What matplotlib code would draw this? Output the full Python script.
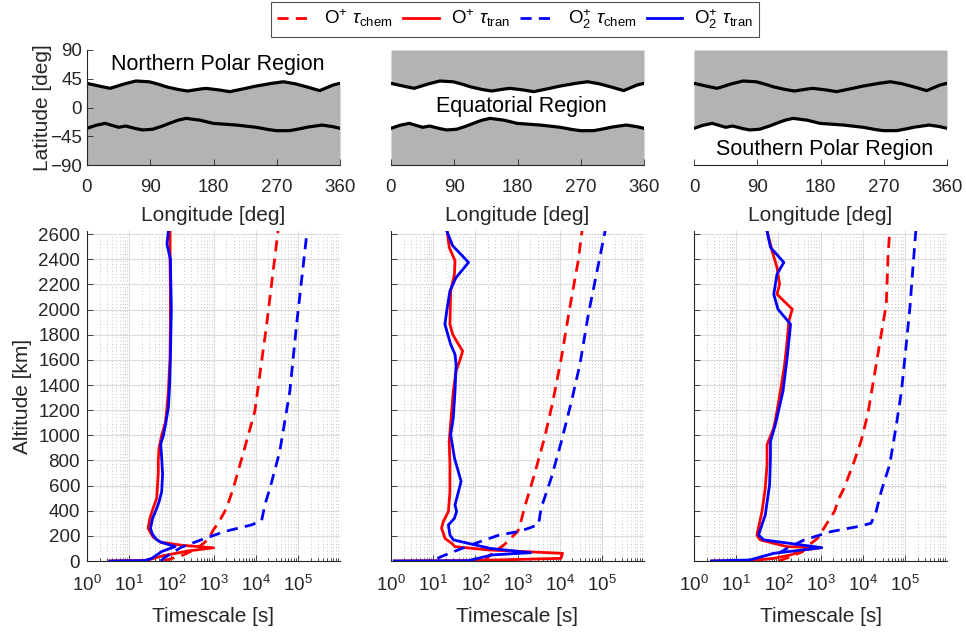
import numpy as np
import matplotlib
matplotlib.use('Agg')
import matplotlib.pyplot as plt
from matplotlib.ticker import LogLocator, NullFormatter

plt.rcParams['font.family'] = ['Liberation Sans', 'DejaVu Sans']
plt.rcParams['mathtext.fontset'] = 'custom'
plt.rcParams['mathtext.rm'] = 'Liberation Sans'
plt.rcParams['mathtext.it'] = 'Liberation Sans:italic'
plt.rcParams['mathtext.bf'] = 'Liberation Sans:bold'

# region boundaries (deg)
bound_lon_up = [0, 15, 33, 50, 69, 88, 100, 112, 128, 143, 158, 169, 185, 203, 220, 236, 258,
                279, 295, 312, 331, 350, 360]
bound_lat_up = [37.8, 34, 30, 36, 41.5, 40.4, 37, 32.6, 28.5, 25.8, 28.5, 30, 28, 24.8, 28.5,
                32.6, 37, 40.4, 37.5, 32.6, 26.4, 35.2, 37.8]
bound_lon_lo = [0, 12, 26, 45, 55, 67, 79, 93, 105, 117, 129, 141, 160, 179, 195, 212, 228,
                241, 255, 269, 288, 300, 312, 334, 348, 360]
bound_lat_lo = [-32.6, -28, -24.8, -31, -29, -32.5, -35.2, -34.2, -30, -24.8, -20, -17, -19.6,
                -24.8, -26, -27.4, -29.5, -31, -34, -36.3, -36.3, -34, -31, -27.4, -29.5, -32.6]

region_names = ['Northern Polar Region', 'Equatorial Region', 'Southern Polar Region']

# ---- Northern polar region timescales [s] vs altitude [km]
n_red_tran_alt = [0, 5, 40, 80, 105, 125, 150, 190, 260, 340, 420, 500, 600, 700, 800, 900,
                  1000, 1100, 1200, 1350, 1600, 1900, 2150, 2400, 2625]
n_red_tran = [3.5, 26, 60, 250, 1000, 180, 55, 37, 28, 31, 37, 45, 47, 49, 49, 51,
              59, 72, 78, 85, 93, 95, 95, 93, 93]
n_blue_tran_alt = [0, 3, 20, 75, 115, 150, 170, 210, 260, 340, 410, 470, 550, 690, 820, 930,
                   1000, 1100, 1220, 1400, 1620, 2000, 2400, 2520, 2625]
n_blue_tran = [3.5, 23, 34, 59, 123, 56, 45, 36, 32, 36, 44, 51, 59, 62, 59, 56,
               65, 74, 85, 91, 95, 100, 95, 79, 85]
n_red_chem_alt = [0, 50, 100, 150, 200, 250, 300, 420, 580, 850, 1190, 1880, 2625]
n_red_chem = [66, 200, 400, 630, 830, 1000, 1290, 2040, 2950, 5000, 9550, 18200, 33900]
n_blue_chem_alt = [0, 30, 110, 170, 235, 287, 320, 450, 580, 870, 1350, 1880, 2625]
n_blue_chem = [56, 71, 174, 525, 1860, 7940, 13800, 16600, 21900, 37200, 64600, 93300, 166000]

# ---- Equatorial region
e_red_tran_alt = [0, 3, 21, 61, 88, 114, 141, 180, 221, 261, 314, 394, 553, 766, 952, 1191,
                  1351, 1511, 1617, 1670, 1723, 1803, 1883, 2149, 2282, 2388, 2495, 2625]
e_red_tran = [1.2, 79, 10700, 11700, 204, 33, 27.5, 19, 17.4, 15.8, 17.4, 23, 25, 25, 24, 27.5,
              30, 35, 45, 50, 40, 29, 25, 26, 32, 33, 24, 21.6]
e_blue_tran_alt = [0, 2, 48, 66, 100, 168, 207, 287, 340, 394, 447, 633, 819, 1005, 1138,
                   1351, 1564, 1644, 1723, 1883, 1989, 2149, 2255, 2375, 2508, 2625]
e_blue_tran = [1.2, 68, 245, 2040, 229, 30, 25, 23, 32, 36, 33, 46, 32, 26, 30,
               33, 35, 33, 26, 19, 21, 25, 35, 69, 29, 21]
e_red_chem_alt = [0, 61, 128, 234, 261, 420, 686, 979, 1271, 1617, 2016, 2388, 2625]
e_red_chem = [160, 250, 480, 1000, 1100, 1450, 2510, 4370, 6920, 11000, 17400, 27500, 33900]
e_blue_chem_alt = [20, 35, 130, 205, 235, 261, 290, 420, 660, 952, 1271, 1564, 1963, 2362, 2625]
e_blue_chem = [12.6, 15.5, 81, 355, 1070, 1860, 3160, 3630, 6310, 11000, 19100, 30200,
               47900, 83200, 120000]

# ---- Southern polar region
s_red_tran_alt = [0, 3, 21, 48, 88, 106, 114, 168, 207, 394, 580, 766, 926, 1059, 1191, 1351,
                  1564, 1750, 1910, 2003, 2122, 2202, 2335, 2468, 2625]
s_red_tran = [2.6, 21, 78, 195, 410, 1000, 162, 37, 31, 41, 49, 54, 54, 78, 93, 112,
              141, 162, 178, 214, 93, 107, 93, 71, 54]
s_blue_tran_alt = [0, 8, 61, 106, 168, 207, 367, 606, 819, 952, 1085, 1351, 1617, 1883, 2003,
                   2122, 2282, 2375, 2495, 2625]
s_blue_tran = [2.6, 21, 78, 1070, 45, 34, 49, 62, 65, 65, 85, 129, 162, 195, 98,
               78, 93, 135, 65, 54]
s_red_chem_alt = [0, 34, 74, 128, 180, 287, 394, 500, 580, 793, 952, 1165, 1484, 1803, 2043,
                  2415, 2625]
s_red_chem = [102, 195, 372, 537, 851, 1350, 2140, 2750, 3630, 6310, 9120, 13200, 19100,
              27500, 36300, 39800, 43700]
s_blue_chem_alt = [60, 101, 167, 234, 274, 300, 394, 553, 766, 1085, 1351, 1750, 2016, 2362, 2625]
s_blue_chem = [100, 162, 407, 1780, 7760, 15800, 20900, 27500, 43700, 63100, 83200, 110000,
               132000, 158000, 182000]

labels = [r'O$^{+}$ $\tau_{\mathrm{chem}}$', r'O$^{+}$ $\tau_{\mathrm{tran}}$',
          r'O$_2^{+}$ $\tau_{\mathrm{chem}}$', r'O$_2^{+}$ $\tau_{\mathrm{tran}}$']

panels = [
    [(n_red_chem, n_red_chem_alt), (n_red_tran, n_red_tran_alt),
     (n_blue_chem, n_blue_chem_alt), (n_blue_tran, n_blue_tran_alt)],
    [(e_red_chem, e_red_chem_alt), (e_red_tran, e_red_tran_alt),
     (e_blue_chem, e_blue_chem_alt), (e_blue_tran, e_blue_tran_alt)],
    [(s_red_chem, s_red_chem_alt), (s_red_tran, s_red_tran_alt),
     (s_blue_chem, s_blue_chem_alt), (s_blue_tran, s_blue_tran_alt)],
]
styles = [('#ff0000', (0, (4, 2.6))), ('#ff0000', '-'), ('#0000ff', (0, (4, 2.6))), ('#0000ff', '-')]

W, H = 966, 633
fig = plt.figure(figsize=(W / 100, H / 100), dpi=100)
dark = '#262626'
gray = '#b3b3b3'
lefts = [87, 391, 694]
width = 253
tick_fs = 13.5
label_fs = 15

lon_grid = np.linspace(0, 360, 721)
up = np.interp(lon_grid, bound_lon_up, bound_lat_up)
lo = np.interp(lon_grid, bound_lon_lo, bound_lat_lo)
text_lat = [68, 2, -65]

handles = []
for i in range(3):
    # map panel
    ax = fig.add_axes([lefts[i] / W, 1 - 165 / H, width / W, 115 / H])
    if i == 0:
        ax.fill_between(lon_grid, -90, up, color=gray, lw=0)
    elif i == 1:
        ax.fill_between(lon_grid, up, 90, color=gray, lw=0)
        ax.fill_between(lon_grid, -90, lo, color=gray, lw=0)
    else:
        ax.fill_between(lon_grid, lo, 90, color=gray, lw=0)
    ax.plot(lon_grid, up, color='k', lw=2.3, solid_capstyle='round')
    ax.plot(lon_grid, lo, color='k', lw=2.3, solid_capstyle='round')
    ax.set_xlim(0, 360)
    ax.set_ylim(-90, 90)
    ax.set_xticks([0, 90, 180, 270, 360])
    ax.text(186, text_lat[i], region_names[i], ha='center', va='center', fontsize=15.5, color='k')
    for s in ['top', 'right']:
        ax.spines[s].set_visible(False)
    ax.spines['bottom'].set_color(dark)
    ax.spines['left'].set_color(dark)
    ax.tick_params(direction='in', colors=dark, labelsize=tick_fs, length=4, width=0.6)
    ax.tick_params(axis='x', pad=10)
    if i == 0:
        ax.set_yticks([90, 45, 0, -45, -90])
        ax.set_ylabel('Latitude [deg]', fontsize=label_fs, color=dark, labelpad=-1)
    else:
        ax.spines['left'].set_visible(False)
        ax.set_yticks([])
    ax.set_xlabel('Longitude [deg]', fontsize=label_fs, color=dark, labelpad=7)

    # timescale panel
    bx = fig.add_axes([lefts[i] / W, 1 - 561 / H, width / W, 330 / H])
    bx.set_xscale('log')
    for (vals, alts), (c, ls), lab in zip(panels[i], styles, labels):
        h, = bx.plot(vals, alts, color=c, linestyle=ls, lw=2, label=lab)
        if i == 0:
            handles.append(h)
    bx.set_xlim(1, 1e6)
    bx.set_ylim(0, 2625)
    bx.set_xticks([1, 10, 1e2, 1e3, 1e4, 1e5])
    bx.xaxis.set_minor_locator(LogLocator(base=10, subs=np.arange(2, 10), numticks=20))
    bx.xaxis.set_minor_formatter(NullFormatter())
    bx.set_yticks(np.arange(0, 2601, 200))
    bx.grid(True, which='major', color='#dcdcdc', lw=0.8)
    bx.grid(True, which='minor', axis='x', color='#b0b0b0', lw=0.6, linestyle=(0, (1, 3)))
    bx.set_axisbelow(True)
    for s in ['top', 'right']:
        bx.spines[s].set_visible(False)
    bx.spines['bottom'].set_color(dark)
    bx.spines['left'].set_color(dark)
    bx.tick_params(which='both', direction='in', colors=dark, labelsize=tick_fs, width=0.6)
    bx.tick_params(which='major', length=4)
    bx.tick_params(which='minor', length=2)
    bx.tick_params(axis='x', which='major', pad=10)
    bx.tick_params(axis='y', which='major', pad=5)
    if i == 0:
        bx.set_ylabel('Altitude [km]', fontsize=label_fs, color=dark, labelpad=4)
    else:
        bx.set_yticklabels([])
    bx.set_xlabel('Timescale [s]', fontsize=label_fs, color=dark, labelpad=9)

leg = fig.legend(handles=handles, loc='center', bbox_to_anchor=(515 / W, 1 - 19.5 / H),
                 ncol=4, fontsize=13.5, frameon=True, fancybox=False, edgecolor=dark,
                 handlelength=1.9, handletextpad=0.65, columnspacing=0.55,
                 borderpad=0.3, borderaxespad=0)
leg.get_frame().set_linewidth(0.8)

fig.savefig('out.png', dpi=100)
